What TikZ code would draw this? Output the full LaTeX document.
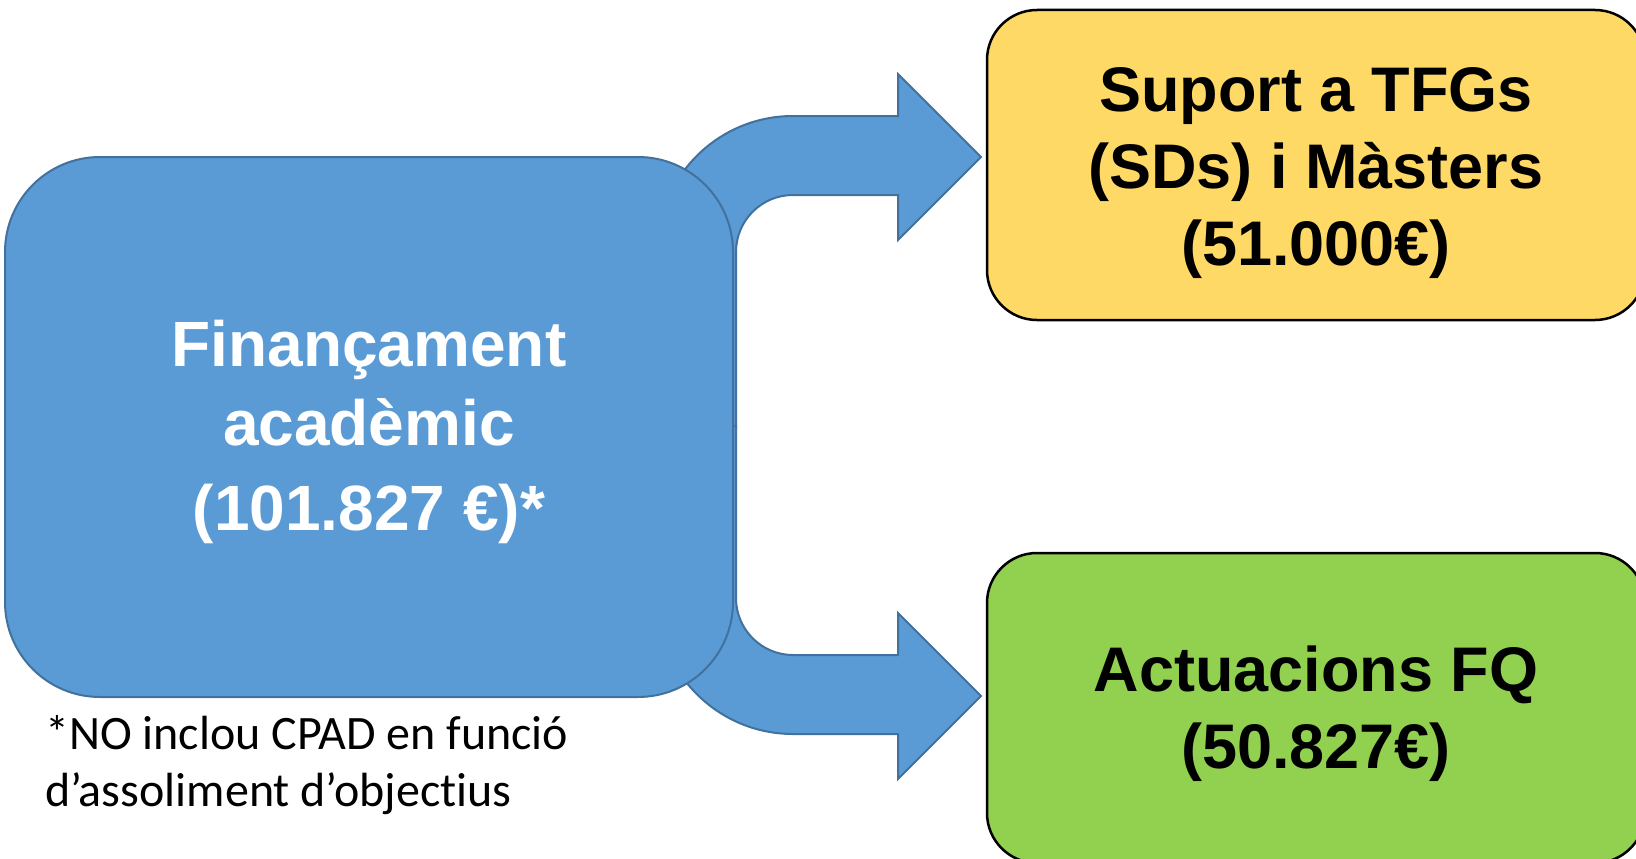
\documentclass[tikz,border=0pt]{standalone}
\usepackage{fontspec}
\setmainfont{Liberation Sans}
\newfontfamily\calibri[Ligatures=NoCommon]{Carlito}
\definecolor{fblue}{HTML}{5B9BD5}
\definecolor{fbluedark}{HTML}{41719C}
\definecolor{fyellow}{HTML}{FFD966}
\definecolor{fgreen}{HTML}{92D050}
\begin{document}
\begin{tikzpicture}[x=1pt,y=-1pt,
  blockarrow/.style={fill=fblue, draw=fbluedark, line width=2pt, line join=miter},
  srcbox/.style={fill=fblue, draw=fbluedark, line width=2pt, rounded corners=95pt,
     minimum width=728pt, minimum height=540pt},
  srctext/.style={text=white, align=center, inner sep=0pt,
     font=\fontsize{64}{79}\selectfont\bfseries},
  dstbox/.style={draw=black, line width=2.5pt, rounded corners=50pt,
     minimum width=658pt, minimum height=310pt},
  dsttext/.style={text=black, align=center, inner sep=0pt,
     font=\fontsize{63}{77}\selectfont\bfseries},
  notetext/.style={anchor=base west, inner sep=0pt, font=\calibri\fontsize{48}{56}\selectfont}]
\useasboundingbox (0,0) rectangle (1636,859);
\clip (0,0) rectangle (1636,859);
% bent block arrows (behind the source box)
\draw[blockarrow] (657,428) -- (657,252) arc[start angle=180,end angle=90,radius=136pt]
  -- (898,116) -- (898,74) -- (981,157) -- (898,240) -- (898,195) -- (793,195)
  arc[start angle=90,end angle=180,radius=57pt] -- (736,428) -- cycle;
\draw[blockarrow] (657,426) -- (657,598) arc[start angle=180,end angle=270,radius=136pt]
  -- (898,734) -- (898,779) -- (981,696) -- (898,613) -- (898,655) -- (793,655)
  arc[start angle=270,end angle=180,radius=57pt] -- (736,426) -- cycle;
% boxes
\node[srcbox] (fin) at (369,427) {};
\node[srctext] (fintext) at (369,432) {Finançament\\acadèmic\\[6pt](101.827 €)*};
\node[dstbox, fill=fyellow] (tfg) at (1316,165) {};
\node[dsttext] (tfgtext) at (1316,173) {Suport a TFGs\\(SDs) i Màsters\\(51.000€)};
\node[dstbox, fill=fgreen] (fq) at (1316,708) {};
\node[dsttext] (fqtext) at (1316,713.5) {Actuacions FQ\\(50.827€)};
% footnote
\node[notetext] (note1) at (45,749) {*NO inclou CPAD en funció};
\node[notetext] (note2) at (45,806) {d’assoliment d’objectius};
\end{tikzpicture}
\end{document}
